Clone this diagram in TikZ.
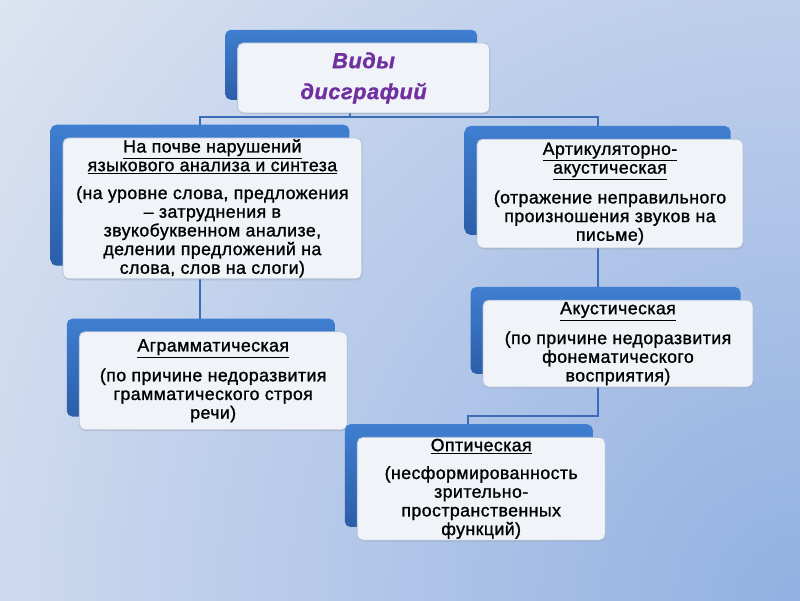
\documentclass[tikz,border=0pt]{standalone}
\usepackage{fontspec}
\setmainfont{Liberation Sans}[FakeBold=1.2,LetterSpace=2.5]
\usetikzlibrary{shadows,backgrounds}
\definecolor{bgA}{HTML}{E2E8F2}
\definecolor{bgB}{HTML}{92B0E2}
\definecolor{backtop}{HTML}{3F7ED0}
\definecolor{backbot}{HTML}{2C5EA8}
\definecolor{cardfill}{HTML}{F0F3F8}
\definecolor{cardline}{HTML}{B4C3DA}
\definecolor{linkc}{HTML}{3A6DB3}
\definecolor{titlec}{HTML}{7030A0}
\newcommand{\ttl}[1]{\underline{#1}}
\tikzset{
  card/.style={rectangle,rounded corners=4pt,draw=cardline,fill=cardfill,line width=0.6pt,
    align=center,inner sep=1pt,font=\fontsize{12.6}{13.3}\selectfont,
    general shadow={top color=backtop,bottom color=backbot,shadow xshift=-0.31cm,shadow yshift=0.33cm},
    drop shadow={opacity=0.25,shadow xshift=0.5pt,shadow yshift=-1pt}},
  link/.style={draw=linkc,line width=1pt}
}
\begin{document}
\begin{tikzpicture}
\useasboundingbox (0,0) rectangle (20,15);
% boxes
\node[card,minimum width=6.3cm,minimum height=1.75cm,font=\fontsize{15.5}{22}\selectfont\bfseries\itshape,text=titlec] (V) at (9.09,13.05) {Виды\\дисграфий};
\node[card,minimum width=7.47cm,minimum height=3.32cm] (L1) at (5.31,9.79)
  {\ttl{На почве нарушений}\\\ttl{языкового анализа и синтеза}\\[6.5pt](на уровне слова, предложения\\– затруднения в\\звукобуквенном анализе,\\делении предложений на\\слова, слов на слоги)};
\node[card,minimum width=6.65cm,minimum height=2.72cm] (R1) at (15.25,10.16)
  {\ttl{Артикуляторно-}\\\ttl{акустическая}\\[6.5pt](отражение неправильного\\произношения звуков на\\письме)};
\node[card,minimum width=6.7cm,minimum height=2.45cm] (L2) at (5.33,5.48)
  {\ttl{Аграмматическая}\\[6.5pt](по причине недоразвития\\грамматического строя\\речи)};
\node[card,minimum width=6.75cm,minimum height=2.17cm] (R2) at (15.45,6.41)
  {\ttl{Акустическая}\\[6.5pt](по причине недоразвития\\фонематического\\восприятия)};
\node[card,minimum width=6.2cm,minimum height=2.55cm] (O) at (12.03,2.78)
  {\ttl{Оптическая}\\[6.5pt](несформированность\\зрительно-\\пространственных\\функций)};
\coordinate (bus) at (0,12.08);
\coordinate (bus2) at (0,4.6);
\begin{scope}[on background layer]
  \fill[bgA] (0,0) rectangle (20,15);
  \begin{scope}
    \clip (0,0) rectangle (20,15);
    \shade[inner color=bgB,outer color=bgA] (20,0) circle (27);
  \end{scope}
  % connectors
  \draw[link] ([xshift=-3.4mm]V.south) |- ([xshift=-3.1mm]L1.north |- bus) -- ([xshift=-3.1mm]L1.north);
  \draw[link] ([xshift=-3.4mm]V.south) |- ([xshift=-3mm]R1.north |- bus) -- ([xshift=-3mm]R1.north);
  \draw[link] ([xshift=-3.1mm]L1.south) -- ([xshift=-3.1mm]L1.south |- L2.north);
  \draw[link] ([xshift=-3mm]R1.south) -- ([xshift=-3mm]R1.south |- R2.north);
  \draw[link] ([xshift=-3mm]R1.south |- R2.south) |- ([xshift=-3.3mm]O.north |- bus2) -- ([xshift=-3.3mm]O.north);
\end{scope}
\end{tikzpicture}
\end{document}
